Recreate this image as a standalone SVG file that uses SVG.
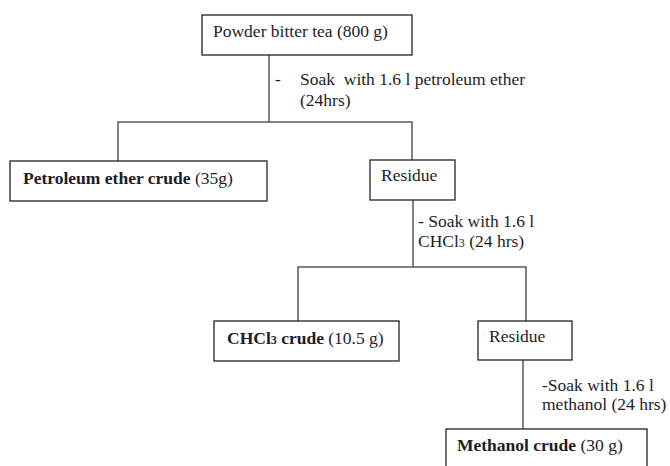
<svg xmlns="http://www.w3.org/2000/svg" width="670" height="466" viewBox="0 0 670 466">
<style>
.box{fill:#fff;stroke:#222;stroke-width:1.3}
.ln{fill:none;stroke:#5a5a5a;stroke-width:1.5}
text{font-size:17.5px;fill:#1c1c28}
.b{font-weight:bold}
</style>
<rect width="670" height="466" fill="#fff"/>
<g id="connectors">
<path class="ln" d="M269 55V122M118 161V122H412V160"/>
<path class="ln" d="M413 200V267M298 321V267H526V321"/>
<path class="ln" d="M523 360V429"/>
</g>
<g id="labels" font-family="'Liberation Serif', 'Times New Roman', serif">
<text x="275" y="85">-</text>
<text x="300" y="85" xml:space="preserve">Soak  with 1.6 l petroleum ether</text>
<text x="300" y="106">(24hrs)</text>
<text x="418" y="227">- Soak with 1.6 l</text>
<text x="418" y="247">CHCl<tspan font-size="12">3</tspan> (24 hrs)</text>
<text x="542" y="391">-Soak with 1.6 l</text>
<text x="542" y="410">methanol (24 hrs)</text>
</g>
<g id="nodes" font-family="'Liberation Serif', 'Times New Roman', serif">
<g id="n1"><rect class="box" x="202" y="15" width="210" height="40"/><text x="213" y="37">Powder bitter tea (800 g)</text></g>
<g id="n2"><rect class="box" x="10" y="161" width="257" height="40"/><text x="23" y="184"><tspan class="b">Petroleum ether crude</tspan> (35g)</text></g>
<g id="n3"><rect class="box" x="370" y="160" width="85" height="40"/><text x="381" y="181">Residue</text></g>
<g id="n4"><rect class="box" x="214" y="321" width="185" height="40"/><text x="227" y="344"><tspan class="b">CHCl<tspan font-size="12">3</tspan> crude</tspan> (10.5 g)</text></g>
<g id="n5"><rect class="box" x="478" y="321" width="94" height="39"/><text x="489" y="342">Residue</text></g>
<g id="n6"><rect class="box" x="446" y="429" width="201" height="45"/><text x="457" y="451"><tspan class="b">Methanol crude</tspan> (30 g)</text></g>
</g>
</svg>
